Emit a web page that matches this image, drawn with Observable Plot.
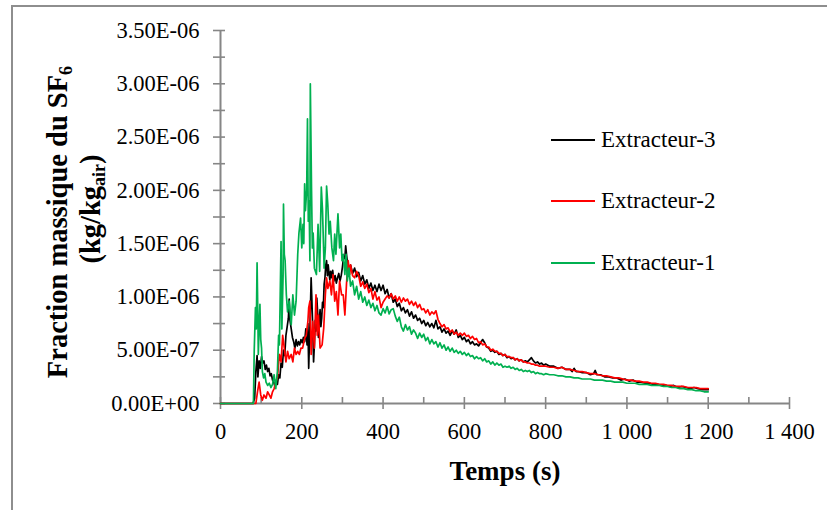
<!DOCTYPE html>
<html>
<head>
<meta charset="utf-8">
<script src="https://cdn.jsdelivr.net/npm/d3@7"></script>
<script src="https://cdn.jsdelivr.net/npm/@observablehq/plot@0.6"></script>
<style>
  html, body { margin: 0; padding: 0; background: #fff; overflow: hidden; }
  #wrap { position: relative; width: 827px; height: 510px; font-family: "Liberation Serif", "Times New Roman", serif; color: #000; }
  #frame { position: absolute; left: 11px; top: 5px; width: 840px; height: 540px; border: 2px solid #8e8e8e; box-sizing: border-box; }
  #chart { position: absolute; left: 0; top: 0; }
  .legend-item { position: absolute; left: 551px; height: 0; }
  .legend-item .sw { position: absolute; left: 0; top: -1px; width: 44px; height: 2px; }
  .legend-item .lb { position: absolute; left: 50px; top: -14px; font-size: 23px; line-height: 28px; white-space: nowrap; }
  .ytitle { position: absolute; font-weight: bold; font-size: 28.5px; line-height: 28px; white-space: nowrap; transform: translate(-50%, -50%) rotate(-90deg); }
  .ytitle sub { font-size: 18px; vertical-align: -5px; line-height: 0; }
  #xtitle { position: absolute; left: 505px; top: 471px; transform: translate(-50%, -50%); font-weight: bold; font-size: 27px; white-space: nowrap; }
</style>
</head>
<body>
<div id="wrap">
  <div id="frame"></div>
  <div id="chart"></div>
  <div class="ytitle" style="left:58px; top:222px;">Fraction massique du SF<sub>6</sub></div>
  <div class="ytitle" style="left:91px; top:209px;">(kg/kg<sub>air</sub>)</div>
  <div id="xtitle">Temps (s)</div>
  <div class="legend-item" style="top:140px;"><div class="sw" style="background:#000000"></div><div class="lb">Extracteur-3</div></div>
  <div class="legend-item" style="top:201px;"><div class="sw" style="background:#ff0000"></div><div class="lb">Extracteur-2</div></div>
  <div class="legend-item" style="top:263px;"><div class="sw" style="background:#00b050"></div><div class="lb">Extracteur-1</div></div>
</div>
<script>
// ---- Data (values in units of 1E-06 kg/kg_air) ----
const seriesNames = ["Extracteur-3", "Extracteur-2", "Extracteur-1"];
const seriesColors = ["#000000", "#ff0000", "#00b050"];

// Extracteur-3 (black)
const t3 = [0, 80, 84, 87, 90, 92, 95, 98, 101, 104, 107, 110, 113, 116, 119, 122, 125, 128, 131, 134, 137, 140, 143, 146, 149, 152, 155, 158, 161, 164, 167, 169, 171, 174, 177, 180, 183, 186, 189, 192, 195, 198, 201, 204, 207, 210, 213, 215, 217, 219, 221, 223, 225, 227, 229, 231, 233, 235, 237, 239, 241, 243, 245, 247, 249, 251, 253, 255, 257, 259, 261, 263, 265, 267, 269, 271, 273, 276, 279, 282, 285, 288, 291, 294, 297, 300, 303, 306, 308, 310, 313, 316,
  320, 325, 330, 335, 340, 345, 350, 355, 360, 365, 370, 375, 380, 385, 390, 395, 400, 405, 410, 415, 420, 425, 430, 435, 440, 445, 450, 455, 460, 465, 470, 475, 480, 485, 490, 495, 500, 505, 510, 515, 520, 525, 530, 535, 540, 545, 550, 555, 560, 565, 570, 575, 580, 585, 590, 595, 600, 605, 610, 615, 620, 625, 630, 635, 640, 645, 650, 655, 660, 665, 670, 675, 680, 685, 690, 695, 700, 705, 710, 715, 720, 725, 730, 735, 740, 745, 750, 755, 760, 765, 770, 775, 780, 785, 790, 795, 800,
  810, 820, 830, 840, 850, 860, 865, 870, 875, 880, 890, 900, 910, 918, 922, 926, 935, 945, 955, 965, 975, 985, 995, 1005, 1015, 1025, 1035, 1045, 1055, 1065, 1075, 1085, 1095, 1105, 1115, 1125, 1135, 1145, 1155, 1165, 1175, 1185, 1200];
const v3 = [0, 0, 0.05, 0.30, 0.45, 0.25, 0.40, 0.33, 0.44, 0.38, 0.40, 0.32, 0.36, 0.30, 0.33, 0.26, 0.28, 0.22, 0.20, 0.16, 0.22, 0.18, 0.27, 0.24, 0.38, 0.34, 0.50, 0.45, 0.64, 0.72, 0.80, 0.98, 0.78, 0.70, 0.62, 0.58, 0.52, 0.60, 0.54, 0.58, 0.55, 0.60, 0.57, 0.62, 0.58, 0.70, 0.55, 0.75, 0.33, 0.60, 0.85, 1.18, 0.95, 0.70, 0.39, 0.55, 0.78, 0.68, 0.99, 0.85, 0.62, 0.78, 0.88, 0.72, 0.80, 0.95, 0.90, 1.12, 1.18, 1.30, 1.34, 1.20, 1.30, 1.22, 1.16, 1.24, 1.18, 1.25, 1.15, 1.20, 1.13, 1.18, 1.22, 1.15, 1.20, 1.28, 1.38, 1.36, 1.48, 1.40, 1.30, 1.25,
  1.30, 1.22, 1.27, 1.19, 1.23, 1.15, 1.20, 1.12, 1.16, 1.08, 1.13, 1.06, 1.11, 1.05, 1.12, 1.06, 1.11, 1.03, 1.07, 0.99, 1.03, 0.95, 0.98, 0.91, 0.94, 0.87, 0.90, 0.85, 0.88, 0.82, 0.86, 0.80, 0.83, 0.78, 0.80, 0.75, 0.78, 0.73, 0.76, 0.72, 0.75, 0.71, 0.78, 0.70, 0.72, 0.67, 0.70, 0.66, 0.68, 0.64, 0.68, 0.65, 0.69, 0.62, 0.64, 0.60, 0.62, 0.58, 0.60, 0.56, 0.58, 0.55, 0.56, 0.54, 0.57, 0.60, 0.57, 0.53, 0.52, 0.49, 0.50, 0.48, 0.49, 0.46, 0.47, 0.45, 0.46, 0.43, 0.44, 0.42, 0.43, 0.41, 0.42, 0.40, 0.41, 0.39, 0.40, 0.39, 0.41, 0.43, 0.40, 0.38, 0.39, 0.37, 0.38, 0.36, 0.37,
  0.35, 0.35, 0.33, 0.34, 0.32, 0.32, 0.30, 0.33, 0.30, 0.30, 0.29, 0.29, 0.27, 0.28, 0.31, 0.27, 0.27, 0.25, 0.25, 0.24, 0.24, 0.22, 0.23, 0.21, 0.22, 0.20, 0.20, 0.19, 0.19, 0.18, 0.18, 0.17, 0.17, 0.16, 0.17, 0.15, 0.16, 0.15, 0.14, 0.15, 0.14, 0.13, 0.13];

// Extracteur-2 (red)
const t2 = [0, 87, 91, 95, 99, 103, 107, 112, 116, 120, 124, 128, 132, 136, 140, 145, 149, 153, 157, 161, 165, 169, 174, 178, 182, 186, 190, 194, 198, 202, 207, 211, 215, 217, 220, 223, 227, 231, 235, 238, 241, 245, 250, 254, 258, 261, 264, 269, 273, 277, 281, 285, 289, 293, 298, 302, 306, 310, 314, 318,
  320, 325, 330, 335, 340, 345, 350, 355, 360, 365, 370, 375, 380, 385, 390, 395, 400, 405, 410, 415, 420, 425, 430, 435, 440, 445, 450, 455, 460, 465, 470, 475, 480, 485, 490, 495, 500, 505, 510, 515, 520, 525, 530, 535, 540, 545, 550, 555, 560, 565, 570, 575, 580, 585, 590, 595, 600, 605, 610, 615, 620, 625, 630, 635, 640, 645, 650, 655, 660, 665, 670, 675, 680, 685, 690, 695, 700, 705, 710, 715, 720, 725, 730, 735, 740, 745, 750, 755, 760, 765, 770, 775, 780, 785, 790, 795, 800,
  810, 820, 830, 840, 850, 860, 870, 880, 890, 900, 910, 920, 930, 940, 950, 960, 970, 980, 990, 1000, 1010, 1020, 1030, 1040, 1050, 1060, 1070, 1080, 1090, 1100, 1110, 1120, 1130, 1140, 1150, 1160, 1170, 1180, 1190, 1200];
const v2 = [0, 0, 0.11, 0.20, 0.08, 0.03, 0.08, 0.05, 0.11, 0.08, 0.05, 0.11, 0.14, 0.20, 0.24, 0.46, 0.39, 0.64, 0.52, 0.39, 0.49, 0.42, 0.46, 0.39, 0.52, 0.46, 0.49, 0.46, 0.52, 0.52, 0.61, 0.64, 0.77, 0.90, 0.96, 0.46, 0.77, 0.52, 1.02, 0.64, 0.83, 0.52, 0.55, 0.71, 1.02, 1.18, 1.08, 1.15, 1.02, 1.21, 0.96, 1.05, 0.83, 1.15, 1.02, 1.02, 0.83, 1.12, 1.34, 1.21,
  1.30, 1.20, 1.18, 1.24, 1.20, 1.10, 1.14, 1.08, 1.12, 1.04, 1.08, 0.98, 1.05, 0.97, 1.00, 0.90, 0.95, 0.98, 1.01, 0.99, 1.03, 0.98, 1.01, 0.96, 1.00, 0.95, 0.99, 0.96, 0.98, 0.93, 0.96, 0.92, 0.95, 0.90, 0.93, 0.88, 0.89, 0.85, 0.88, 0.83, 0.86, 0.84, 0.87, 0.79, 0.75, 0.72, 0.74, 0.70, 0.71, 0.67, 0.69, 0.65, 0.67, 0.64, 0.66, 0.64, 0.66, 0.63, 0.64, 0.61, 0.63, 0.60, 0.61, 0.57, 0.58, 0.55, 0.56, 0.53, 0.53, 0.50, 0.51, 0.49, 0.49, 0.47, 0.47, 0.45, 0.46, 0.44, 0.44, 0.43, 0.43, 0.41, 0.42, 0.40, 0.41, 0.39, 0.39, 0.38, 0.38, 0.37, 0.37, 0.36, 0.36, 0.35, 0.35, 0.35, 0.35,
  0.34, 0.34, 0.33, 0.34, 0.32, 0.32, 0.31, 0.30, 0.30, 0.29, 0.28, 0.28, 0.27, 0.26, 0.26, 0.25, 0.24, 0.24, 0.23, 0.22, 0.22, 0.21, 0.21, 0.20, 0.20, 0.19, 0.19, 0.18, 0.18, 0.17, 0.17, 0.16, 0.16, 0.16, 0.15, 0.15, 0.15, 0.14, 0.14, 0.14];

// Extracteur-1 (green)
const t1 = [0, 81, 83, 86, 88, 90, 92, 93, 95, 97, 99, 101, 103, 106, 109, 112, 116, 120, 124, 128, 132, 136, 140, 143, 145, 149, 151, 154, 155, 157, 159, 162, 165, 169, 174, 178, 182, 186, 190, 193, 197, 200, 203, 205, 207, 209, 212, 214, 216, 218, 220, 221, 224, 226, 228, 231, 236, 240, 244, 248, 251, 255, 258, 261, 264, 267, 270, 274, 278, 281, 284, 289, 293, 296, 299, 302, 306, 309, 312, 316,
  320, 325, 330, 335, 340, 345, 350, 355, 360, 365, 370, 375, 380, 385, 390, 395, 400, 405, 410, 415, 420, 425, 430, 435, 440, 445, 450, 455, 460, 465, 470, 475, 480, 485, 490, 495, 500, 505, 510, 515, 520, 525, 530, 535, 540, 545, 550, 555, 560, 565, 570, 575, 580, 585, 590, 595, 600, 605, 610, 615, 620, 625, 630, 635, 640, 645, 650, 655, 660, 665, 670, 675, 680, 685, 690, 695, 700, 705, 710, 715, 720, 725, 730, 735, 740, 745, 750, 755, 760, 765, 770, 775, 780, 785, 790, 795, 800,
  810, 820, 830, 840, 850, 860, 870, 880, 890, 900, 910, 920, 930, 940, 950, 960, 970, 980, 990, 1000, 1010, 1020, 1030, 1040, 1050, 1060, 1070, 1080, 1090, 1100, 1110, 1120, 1130, 1140, 1150, 1160, 1170, 1180, 1190, 1200];
const v1 = [0, 0, 0.50, 0.90, 0.70, 1.32, 0.80, 0.46, 0.70, 0.93, 0.60, 0.52, 0.30, 0.24, 0.28, 0.20, 0.17, 0.19, 0.15, 0.18, 0.27, 0.14, 0.30, 0.64, 0.55, 1.52, 0.70, 1.20, 1.87, 1.40, 1.34, 1.02, 0.86, 0.96, 0.74, 1.02, 0.83, 0.96, 1.40, 1.60, 1.74, 1.46, 1.68, 1.50, 2.06, 1.81, 2.00, 2.67, 1.71, 1.90, 1.34, 3.00, 2.00, 1.46, 1.60, 1.27, 1.21, 1.68, 1.24, 2.03, 1.81, 1.27, 1.46, 2.04, 1.87, 1.59, 1.71, 1.46, 1.34, 1.59, 1.40, 1.78, 1.46, 1.59, 1.34, 1.40, 1.21, 1.40, 1.15, 1.27,
  1.10, 1.15, 1.02, 1.10, 0.98, 1.05, 0.95, 1.00, 0.92, 0.97, 0.90, 0.94, 0.87, 0.92, 0.85, 0.83, 0.89, 0.85, 0.91, 0.84, 0.88, 0.89, 0.82, 0.77, 0.81, 0.72, 0.68, 0.74, 0.69, 0.72, 0.65, 0.69, 0.66, 0.61, 0.66, 0.62, 0.65, 0.59, 0.62, 0.56, 0.60, 0.56, 0.58, 0.53, 0.57, 0.52, 0.55, 0.50, 0.53, 0.49, 0.52, 0.48, 0.50, 0.47, 0.49, 0.46, 0.48, 0.45, 0.47, 0.44, 0.45, 0.42, 0.44, 0.42, 0.43, 0.40, 0.42, 0.39, 0.40, 0.37, 0.39, 0.36, 0.38, 0.36, 0.37, 0.34, 0.35, 0.34, 0.35, 0.33, 0.34, 0.32, 0.33, 0.31, 0.32, 0.30, 0.31, 0.30, 0.31, 0.29, 0.30, 0.28, 0.29, 0.28, 0.28, 0.27, 0.28,
  0.27, 0.27, 0.26, 0.26, 0.25, 0.25, 0.24, 0.24, 0.23, 0.23, 0.23, 0.22, 0.22, 0.22, 0.21, 0.21, 0.20, 0.20, 0.20, 0.19, 0.19, 0.19, 0.18, 0.18, 0.18, 0.17, 0.17, 0.17, 0.16, 0.16, 0.15, 0.15, 0.14, 0.14, 0.13, 0.13, 0.12, 0.12, 0.11, 0.11];

// Axis ticks
const xTicks = [0, 200, 400, 600, 800, 1000, 1200, 1400];
const xMinorTicks = [100, 300, 500, 700, 900, 1100, 1300];
const yTicks = [0, 5e-7, 1e-6, 1.5e-6, 2e-6, 2.5e-6, 3e-6, 3.5e-6];
const yAllTicks = [0, 2.5e-7, 5e-7, 7.5e-7, 1e-6, 1.25e-6, 1.5e-6, 1.75e-6, 2e-6, 2.25e-6, 2.5e-6, 2.75e-6, 3e-6, 3.25e-6, 3.5e-6];

// ---- Build rows ----
const times = [t3, t2, t1];
const vals = [v3, v2, v1];
const rows = seriesNames.map((name, k) => times[k].map((t, i) => ({series: name, t, v: vals[k][i] * 1e-6})));

function sci(v) {
  if (v === 0) return "0.00E+00";
  const e = Math.floor(Math.log10(Math.abs(v)) + 1e-9);
  const m = v / Math.pow(10, e);
  return m.toFixed(2) + "E" + (e < 0 ? "-" : "+") + String(Math.abs(e)).padStart(2, "0");
}
const frLocale = d3.formatLocale({decimal: ".", thousands: " ", grouping: [3], currency: ["", ""]});
const xFmt = frLocale.format(",");

const W = 827, H = 510, mL = 220, mR = 38, mT = 30, mB = 107;
const plotW = W - mL - mR, plotH = H - mT - mB;
const axisGray = "#868686";

const chart = Plot.plot({
  width: W, height: H,
  marginLeft: mL, marginRight: mR, marginTop: mT, marginBottom: mB,
  x: {domain: [0, 1400]},
  y: {domain: [0, 3.5e-6]},
  style: {fontFamily: "'Liberation Serif', 'Times New Roman', serif", color: "#000", background: "transparent", overflow: "visible"},
  marks: [
    Plot.axisY(yTicks, {tickSize: 0, tickPadding: 21, tickFormat: sci, fontSize: 22.5, label: null}),
    Plot.axisX(xTicks, {tickSize: 0, tickPadding: 20, tickFormat: xFmt, fontSize: 22.5, label: null}),
    Plot.tickY(yAllTicks, {y: d => d, stroke: axisGray, strokeWidth: 1.6, insetRight: plotW - 12, dx: -7}),
    Plot.tickX(xTicks, {x: d => d, stroke: axisGray, strokeWidth: 1.6, insetTop: plotH - 12, dy: 6}),
    Plot.tickX(xMinorTicks, {x: d => d, stroke: axisGray, strokeWidth: 1.6, insetTop: plotH - 6}),
    Plot.ruleX([0], {stroke: axisGray, strokeWidth: 2}),
    Plot.ruleY([0], {stroke: axisGray, strokeWidth: 2}),
    ...rows.map((data, k) => Plot.line(data, {x: "t", y: "v", stroke: seriesColors[k], strokeWidth: 1.7, strokeLinejoin: "round"}))
  ]
});
document.getElementById("chart").appendChild(chart);
</script>
</body>
</html>
